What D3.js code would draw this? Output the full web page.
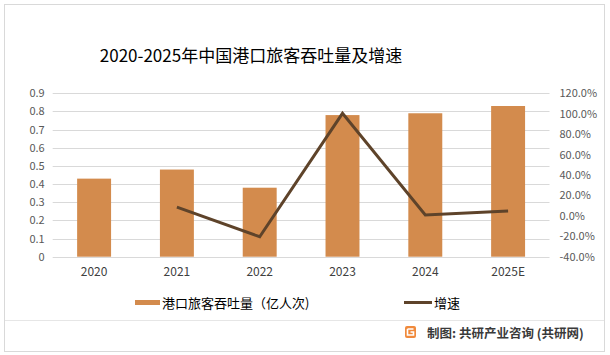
<!DOCTYPE html>
<html><head><meta charset="utf-8">
<script src="https://cdn.jsdelivr.net/npm/d3@7"></script>
<style>body{margin:0;background:#fff}svg{display:block}</style>
</head><body>
<svg id="c" width="610" height="355"></svg>
<script>
const categories = ["2020","2021","2022","2023","2024","2025E"];
const throughput = [0.43, 0.48, 0.38, 0.78, 0.79, 0.83];
const growth = [null, 8.5, -20.5, 100.4, 0.8, 4.7];
const leftTicks = [0,0.1,0.2,0.3,0.4,0.5,0.6,0.7,0.8,0.9];
const rightTicks = [-40,-20,0,20,40,60,80,100,120];
const title = "2020-2025年中国港口旅客吞吐量及增速";
const legendBar = "港口旅客吞吐量（亿人次)";
const legendLine = "增速";
const footer = "制图: 共研产业咨询 (共研网)";

const font = "'Noto Sans CJK SC','Microsoft YaHei',sans-serif";
const svg = d3.select("#c");
svg.append("rect").attr("x",4.5).attr("y",4.5).attr("width",600).attr("height",347)
  .attr("fill","#fff").attr("stroke","#d9d9d9");

const L = 52.7, R = 549.5, T = 93.3, B = 256.7;
const x = d3.scaleBand().domain(categories).range([L,R]).padding(0);
const yL = d3.scaleLinear().domain([0,0.9]).range([B,T]);
const yR = d3.scaleLinear().domain([-40,120]).range([B,T]);

// gridlines
svg.append("g").selectAll("line").data(leftTicks).join("line")
  .attr("x1",L).attr("x2",R).attr("y1",d=>Math.round(yL(d))+0.5).attr("y2",d=>Math.round(yL(d))+0.5)
  .attr("stroke","#d9d9d9").attr("stroke-width",1);

// left axis
const la = svg.append("g").attr("transform",`translate(${L},0)`)
  .call(d3.axisLeft(yL).tickValues(leftTicks).tickSize(0).tickPadding(8).tickFormat(d=>d===0?"0":d3.format(".1f")(d)));
la.select(".domain").remove();
la.selectAll("text").attr("font-family",font).attr("font-size",11).attr("fill","#595959");

// right axis
const ra = svg.append("g").attr("transform",`translate(${R},0)`)
  .call(d3.axisRight(yR).tickValues(rightTicks).tickSize(0).tickPadding(10).tickFormat(d=>d.toFixed(1)+"%"));
ra.select(".domain").remove();
ra.selectAll("text").attr("font-family",font).attr("font-size",11).attr("fill","#595959");

// bottom axis
const ba = svg.append("g").attr("transform",`translate(0,${B})`)
  .call(d3.axisBottom(x).tickSize(0).tickPadding(11));
ba.select(".domain").remove();
ba.selectAll("text").attr("font-family",font).attr("font-size",12).attr("fill","#404040");

// bars
const bw = x.bandwidth()*0.41;
svg.append("g").selectAll("rect").data(categories).join("rect")
  .attr("x",(d)=>x(d)+x.bandwidth()/2-bw/2)
  .attr("y",(d,i)=>yL(throughput[i]))
  .attr("width",bw)
  .attr("height",(d,i)=>yL(0)-yL(throughput[i]))
  .attr("fill","#d38b4d");

// line
const pts = categories.map((c,i)=>({c,v:growth[i]})).filter(p=>p.v!==null);
svg.append("path").datum(pts)
  .attr("d",d3.line().x(p=>x(p.c)+x.bandwidth()/2).y(p=>yR(p.v)))
  .attr("fill","none").attr("stroke","#5e432a").attr("stroke-width",3).attr("stroke-linejoin","miter");

// title
svg.append("text").attr("x",251).attr("y",62).attr("text-anchor","middle")
  .attr("font-family",font).attr("font-size",17).attr("fill","#000").text(title);

// legend
svg.append("rect").attr("x",135).attr("y",300).attr("width",25).attr("height",5).attr("fill","#d38b4d");
svg.append("text").attr("x",162).attr("y",308).attr("font-family",font).attr("font-size",13).attr("fill","#000").text(legendBar);
svg.append("line").attr("x1",404).attr("x2",432).attr("y1",302.5).attr("y2",302.5).attr("stroke","#5e432a").attr("stroke-width",3);
svg.append("text").attr("x",434).attr("y",308).attr("font-family",font).attr("font-size",13).attr("fill","#000").text(legendLine);

// separator
svg.append("line").attr("x1",5).attr("x2",604).attr("y1",320.5).attr("y2",320.5).attr("stroke","#e6e6e6");

// footer logo
const lg = svg.append("g").attr("transform","translate(405,326)");
lg.append("rect").attr("width",11).attr("height",12).attr("rx",2).attr("fill","#f08a3c");
lg.append("path").attr("d","M2.5,3 H8.5 M2.5,3 V9 H8.5 V6 H5.5").attr("fill","none").attr("stroke","#fff").attr("stroke-width",1.6);
svg.append("text").attr("x",427).attr("y",337.5).attr("font-family",font).attr("font-size",12.5).attr("font-weight","bold").attr("fill","#3a3a3a").text(footer);
</script>
</body></html>
